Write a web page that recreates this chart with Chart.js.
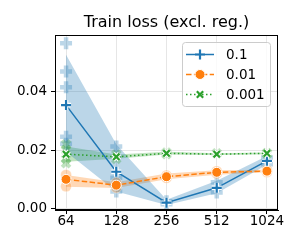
<!DOCTYPE html>
<html><head><meta charset="utf-8">
<script src="https://cdn.jsdelivr.net/npm/chart.js@4.4.0/dist/chart.umd.min.js"></script>
<style>html,body{margin:0;padding:0;background:#fff}#wrap{width:300px;height:250px}</style>
</head><body><div id="wrap"><canvas id="c" width="300" height="250"></canvas></div>
<script>
const batchSizes = ['64', '128', '256', '512', '1024'];
const seriesNames = ['0.1', '0.01', '0.001'];
const yTickValues = [0, 0.02, 0.04];
const yTickLabels = ['0.00', '0.02', '0.04'];
const titleText = 'Train loss (excl. reg.)';

const mean01 = [0.0354, 0.0126, 0.0020, 0.0071, 0.0163];
const lo01   = [0.0194, 0.0058, 0.0012, 0.0052, 0.0150];
const hi01   = [0.0526, 0.0220, 0.0030, 0.0095, 0.0180];
const mean001 = [0.0100, 0.0080, 0.0109, 0.0124, 0.0128];
const lo001   = [0.0075, 0.0070, 0.0100, 0.0116, 0.0124];
const hi001   = [0.0115, 0.0090, 0.0120, 0.0131, 0.0133];
const mean0001 = [0.0186, 0.0177, 0.0189, 0.0186, 0.0189];
const lo0001   = [0.0160, 0.0170, 0.0185, 0.0183, 0.0186];
const hi0001   = [0.0212, 0.0185, 0.0194, 0.0189, 0.0192];

// individual runs (index into batchSizes, value)
const seedIdx01 = [0, 0, 0, 0, 0, 1, 1, 1, 2, 2, 3, 3, 4, 4];
const seedVal01 = [0.0566, 0.0469, 0.0415, 0.0246, 0.0222, 0.0212, 0.0058, 0.0105, 0.0015, 0.0025, 0.0055, 0.0090, 0.0152, 0.0175];
const seedIdx001 = [0, 0, 1, 1, 2, 2, 3, 3, 4, 4];
const seedVal001 = [0.0115, 0.0076, 0.0072, 0.0088, 0.0113, 0.0105, 0.0128, 0.0120, 0.0125, 0.0132];
const seedIdx0001 = [0, 0, 0, 0, 1, 1, 2, 2, 3, 4, 4];
const seedVal0001 = [0.0220, 0.0155, 0.0200, 0.0170, 0.0170, 0.0185, 0.0192, 0.0186, 0.0189, 0.0190, 0.0187];

const BLUE = '#1f77b4', ORANGE = '#ff7f0e', GREEN = '#2ca02c';
const xy = arr => arr.map((v, i) => ({x: i, y: v}));
const pts = (idx, val) => idx.map((x, i) => ({x: x, y: val[i]}));

function band(hi, lo, rgba) {
  return [
    {data: xy(hi), borderWidth: 0, pointRadius: 0, fill: '+1', backgroundColor: rgba, order: 20},
    {data: xy(lo), borderWidth: 0, pointRadius: 0, fill: false, order: 20}
  ];
}
const styles = [
  {color: BLUE, dash: [], point: 'cross', r: 5, bw: 2.2, fill: BLUE, edge: 'white', edgeW: 4.5},
  {color: ORANGE, dash: [5.5, 2.4], point: 'circle', r: 5, bw: 1, fill: ORANGE, edge: 'white', edgeW: 0},
  {color: GREEN, dash: [1.5, 2.5], point: 'crossRot', r: 4.5, bw: 2.2, fill: GREEN, edge: 'white', edgeW: 4.5}
];

const datasets = [];
datasets.push(...band(hi01, lo01, 'rgba(31,119,180,0.3)'));
datasets.push(...band(hi001, lo001, 'rgba(255,127,14,0.3)'));
datasets.push(...band(hi0001, lo0001, 'rgba(44,160,44,0.3)'));
// faint individual runs
datasets.push({data: pts(seedIdx01, seedVal01), showLine: false, pointStyle: 'cross', pointRadius: 6, pointBorderWidth: 4.5, pointBorderColor: 'rgba(31,119,180,0.3)', pointBackgroundColor: 'rgba(31,119,180,0.3)', order: 15});
datasets.push({data: pts(seedIdx001, seedVal001), showLine: false, pointStyle: 'circle', pointRadius: 5.5, pointBorderWidth: 1, pointBorderColor: 'rgba(255,255,255,0.3)', pointBackgroundColor: 'rgba(255,127,14,0.3)', order: 14});
datasets.push({data: pts(seedIdx0001, seedVal0001), showLine: false, pointStyle: 'crossRot', pointRadius: 5.5, pointBorderWidth: 4, pointBorderColor: 'rgba(44,160,44,0.3)', pointBackgroundColor: 'rgba(44,160,44,0.3)', order: 13});
// mean lines
const means = [mean01, mean001, mean0001];
means.forEach((m, k) => {
  const s = styles[k];
  const ord = 9 - k * 3;
  datasets.push({data: xy(m), borderColor: s.color, borderWidth: 1.5, borderDash: s.dash, pointRadius: 0, fill: false, order: ord});
  if (s.edgeW > 0) {
    datasets.push({data: xy(m), showLine: false, pointStyle: s.point, pointRadius: s.r, pointBorderWidth: s.edgeW, pointBorderColor: 'white', pointBackgroundColor: 'white', order: ord - 1});
  }
  datasets.push({data: xy(m), showLine: false, pointStyle: s.point, pointRadius: s.r, pointBorderWidth: s.bw, pointBorderColor: s.point === 'circle' ? 'white' : s.color, pointBackgroundColor: s.fill, order: ord - 2});
});

const FONT = 'DejaVu Sans';
const decor = {
  id: 'decor',
  afterDraw(chart) {
    const ctx = chart.ctx, a = chart.chartArea;
    ctx.save();
    // axes frame
    ctx.strokeStyle = '#000'; ctx.lineWidth = 1; ctx.setLineDash([]);
    ctx.strokeRect(a.left + 0.5, a.top + 0.5, a.right - a.left - 1, a.bottom - a.top - 1);
    // title
    ctx.fillStyle = '#000';
    ctx.font = '16px "' + FONT + '"';
    ctx.textAlign = 'center'; ctx.textBaseline = 'alphabetic';
    ctx.fillText(titleText, (a.left + a.right) / 2, 27);
    // legend
    const bx = 182.5, by = 42.5, bw = 88, bh = 64;
    ctx.beginPath();
    ctx.roundRect(bx, by, bw, bh, 3);
    ctx.fillStyle = 'rgba(255,255,255,0.8)'; ctx.fill();
    ctx.strokeStyle = '#cccccc'; ctx.lineWidth = 1; ctx.stroke();
    seriesNames.forEach((name, i) => {
      const s = styles[i];
      const y = 54.5 + i * 20;
      ctx.strokeStyle = s.color; ctx.lineWidth = 1.5; ctx.setLineDash(s.dash);
      ctx.beginPath(); ctx.moveTo(186, y); ctx.lineTo(214, y); ctx.stroke();
      ctx.setLineDash([]);
      if (s.edgeW > 0) {
        ctx.strokeStyle = 'white'; ctx.fillStyle = 'white';
        Chart.helpers.drawPoint(ctx, {pointStyle: s.point, radius: s.r, borderWidth: s.edgeW, rotation: 0}, 200, y);
      }
      ctx.strokeStyle = s.point === 'circle' ? 'white' : s.color; ctx.fillStyle = s.fill;
      ctx.lineWidth = s.bw;
      Chart.helpers.drawPoint(ctx, {pointStyle: s.point, radius: s.r, borderWidth: s.bw, rotation: 0}, 200, y);
      ctx.fillStyle = '#000';
      ctx.font = '13.5px "' + FONT + '"';
      ctx.textAlign = 'left'; ctx.textBaseline = 'middle';
      ctx.fillText(name, 226, y + 0.5);
    });
    ctx.restore();
  }
};

new Chart(document.getElementById('c'), {
  type: 'line',
  data: {datasets},
  options: {
    responsive: false, animation: false, devicePixelRatio: 1,
    layout: {padding: {top: 35, right: 22, left: 0, bottom: 0}},
    plugins: {legend: {display: false}, tooltip: {enabled: false}, title: {display: false}},
    scales: {
      x: {
        type: 'linear', min: -0.22, max: 4.22,
        afterBuildTicks: s => { s.ticks = batchSizes.map((b, i) => ({value: i})); },
        afterFit: s => { s.height = 40; },
        ticks: {callback: v => batchSizes[v], color: '#000', font: {family: FONT, size: 13.5}, padding: -1, maxRotation: 0, autoSkip: false},
        grid: {color: '#e6e6e6', lineWidth: 1, tickColor: '#000', tickLength: 4, drawTicks: true},
        border: {display: true, color: '#000', width: 1}
      },
      y: {
        type: 'linear', min: -0.0005, max: 0.0594,
        afterBuildTicks: s => { s.ticks = yTickValues.map(v => ({value: v})); },
        afterFit: s => { s.width = 55; },
        ticks: {callback: (v, i) => yTickLabels[yTickValues.indexOf(v)], color: '#000', font: {family: FONT, size: 13.5}, padding: 4},
        grid: {color: '#e6e6e6', lineWidth: 1, tickColor: '#000', tickLength: 4, drawTicks: true},
        border: {display: true, color: '#000', width: 1}
      }
    }
  },
  plugins: [decor]
});
</script>
</body></html>
